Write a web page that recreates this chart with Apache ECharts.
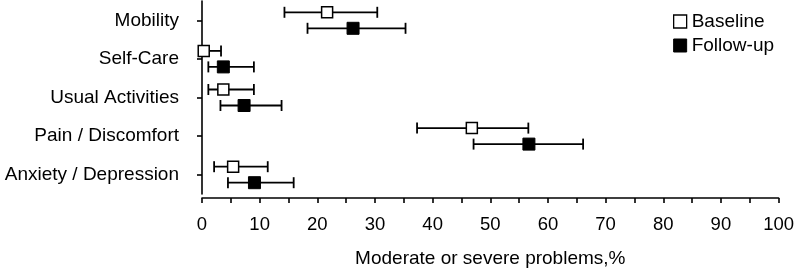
<!DOCTYPE html>
<html>
<head>
<meta charset="utf-8">
<script src="https://cdn.jsdelivr.net/npm/echarts@6/dist/echarts.min.js"></script>
<style>
html,body{margin:0;padding:0;background:#fff;}
#chart{width:797px;height:273px;}
</style>
</head>
<body>
<div id="chart"></div>
<script>
var categories = ['Mobility', 'Self-Care', 'Usual Activities', 'Pain / Discomfort', 'Anxiety / Depression'];
var baseline = [21.7, 0.3, 3.7, 46.8, 5.4];
var baselineLow = [14.3, 0, 1.1, 37.3, 2.1];
var baselineHigh = [30.4, 3.3, 9.0, 56.6, 11.4];
var followup = [26.2, 3.7, 7.3, 56.7, 9.1];
var followupLow = [18.3, 1.1, 3.2, 47.1, 4.5];
var followupHigh = [35.3, 9.0, 13.8, 66.1, 15.9];
var xTicks = [0, 10, 20, 30, 40, 50, 60, 70, 80, 90, 100];

var FONT = '"Liberation Sans", Arial, Helvetica, sans-serif';
var OFF = 8;

function errData(lo, hi) {
  return categories.map(function (c, i) { return [lo[i], hi[i], i]; });
}
function ptData(v) {
  return categories.map(function (c, i) { return [v[i], i]; });
}
function errRender(offset) {
  return function (params, api) {
    var cat = api.value(2);
    var p1 = api.coord([api.value(0), cat]);
    var p2 = api.coord([api.value(1), cat]);
    var y = p1[1] + offset;
    var h = 5.5;
    var st = { stroke: '#000', lineWidth: 1.8 };
    return {
      type: 'group',
      children: [
        { type: 'line', shape: { x1: p1[0], y1: y, x2: p2[0], y2: y }, style: st },
        { type: 'line', shape: { x1: p1[0], y1: y - h, x2: p1[0], y2: y + h }, style: st },
        { type: 'line', shape: { x1: p2[0], y1: y - h, x2: p2[0], y2: y + h }, style: st }
      ]
    };
  };
}

var chart = echarts.init(document.getElementById('chart'), null, { renderer: 'canvas' });
chart.setOption({
  animation: false,
  backgroundColor: '#fff',
  textStyle: { fontFamily: FONT, color: '#000' },
  grid: { left: 202, right: 15, top: 1, bottom: 77, containLabel: false },
  legend: {
    orient: 'vertical',
    left: 668,
    top: 7,
    itemWidth: 13,
    itemHeight: 13,
    itemGap: 5,
    textStyle: { fontFamily: FONT, fontSize: 19, color: '#000' },
    data: [
      { name: 'Baseline', icon: 'rect', itemStyle: { color: '#fff', borderColor: '#000', borderWidth: 1.3 } },
      { name: 'Follow-up', icon: 'rect', itemStyle: { color: '#000', borderColor: '#000', borderWidth: 1 } }
    ]
  },
  xAxis: {
    type: 'value',
    min: xTicks[0],
    max: xTicks[xTicks.length - 1],
    interval: xTicks[1] - xTicks[0],
    offset: 4,
    axisLine: { show: true, lineStyle: { color: '#000', width: 1.6 } },
    axisTick: { show: true, length: 5, lineStyle: { color: '#000', width: 1.6 } },
    minorTick: { show: true, splitNumber: 2, length: 5, lineStyle: { color: '#000', width: 1.6 } },
    splitLine: { show: false },
    minorSplitLine: { show: false },
    axisLabel: { fontFamily: FONT, fontSize: 18.5, color: '#000', margin: 17 },
    name: 'Moderate or severe problems,%',
    nameLocation: 'middle',
    nameGap: 51,
    nameTextStyle: { fontFamily: FONT, fontSize: 19, color: '#000' }
  },
  yAxis: {
    type: 'category',
    data: categories,
    inverse: true,
    offset: 6,
    axisLine: { show: true, lineStyle: { color: '#000', width: 1.6 } },
    axisTick: { show: true, alignWithLabel: true, length: 5, lineStyle: { color: '#000', width: 1.6 } },
    splitLine: { show: false },
    axisLabel: { fontFamily: FONT, fontSize: 19, color: '#000', margin: 17 }
  },
  series: [
    {
      name: 'BaselineErr', type: 'custom', renderItem: errRender(-OFF),
      data: errData(baselineLow, baselineHigh), z: 2, silent: true
    },
    {
      name: 'FollowErr', type: 'custom', renderItem: errRender(OFF),
      data: errData(followupLow, followupHigh), z: 2, silent: true
    },
    {
      name: 'Baseline', type: 'scatter', symbol: 'rect', symbolSize: 11,
      symbolOffset: [0, -OFF],
      itemStyle: { color: '#fff', borderColor: '#000', borderWidth: 1.5, opacity: 1 },
      data: ptData(baseline), z: 5
    },
    {
      name: 'Follow-up', type: 'scatter', symbol: 'rect', symbolSize: 12,
      symbolOffset: [0, OFF],
      itemStyle: { color: '#000', borderColor: '#000', borderWidth: 1, opacity: 1 },
      data: ptData(followup), z: 5
    }
  ]
});
</script>
</body>
</html>
